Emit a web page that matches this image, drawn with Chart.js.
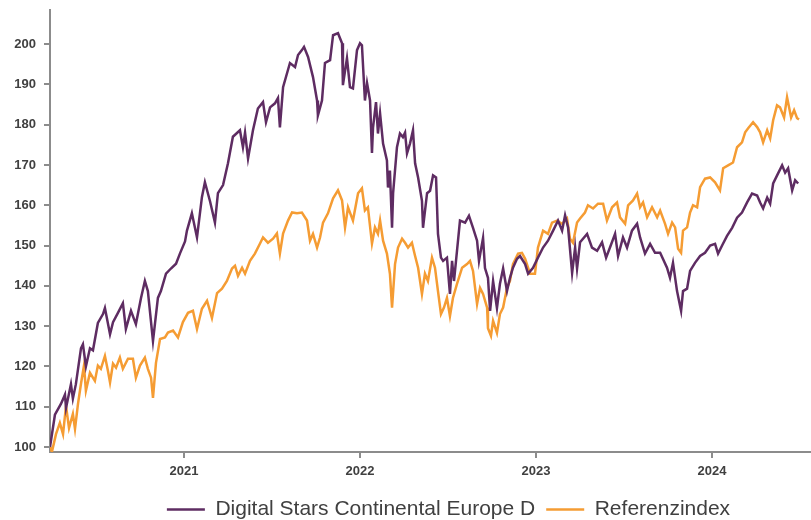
<!DOCTYPE html>
<html lang="de">
<head>
<meta charset="utf-8">
<title>Digital Stars Continental Europe D vs. Referenzindex</title>
<script src="https://cdn.jsdelivr.net/npm/chart.js@4.4.1/dist/chart.umd.min.js"></script>
<style>
  html, body { margin: 0; padding: 0; background: #ffffff; }
  #wrap { width: 811px; height: 520px; }
</style>
</head>
<body>
<div id="wrap"><canvas id="chart" width="811" height="520"></canvas></div>
<script>
// Zeitachse in Dezimaljahren (z.B. 2021.5 = Anfang Juli 2021)
const fundDates = [
  2020.239, 2020.267, 2020.301, 2020.324, 2020.330, 2020.358, 2020.369, 2020.386, 2020.415, 2020.426,
  2020.443, 2020.466, 2020.483, 2020.511, 2020.540, 2020.551, 2020.580, 2020.597, 2020.625, 2020.653,
  2020.670, 2020.699, 2020.727, 2020.756, 2020.778, 2020.795, 2020.824, 2020.852, 2020.869, 2020.898,
  2020.926, 2020.955, 2020.977, 2021.006, 2021.017, 2021.045, 2021.074, 2021.102, 2021.119, 2021.148,
  2021.176, 2021.193, 2021.222, 2021.250, 2021.278, 2021.318, 2021.335, 2021.347, 2021.364, 2021.392,
  2021.420, 2021.449, 2021.466, 2021.489, 2021.517, 2021.534, 2021.545, 2021.563, 2021.602, 2021.631,
  2021.648, 2021.670, 2021.682, 2021.705, 2021.733, 2021.756, 2021.761, 2021.784, 2021.801, 2021.830,
  2021.847, 2021.875, 2021.898, 2021.903, 2021.926, 2021.943, 2021.960, 2021.983, 2022.000, 2022.011,
  2022.028, 2022.040, 2022.057, 2022.068, 2022.074, 2022.091, 2022.102, 2022.114, 2022.131, 2022.153,
  2022.159, 2022.170, 2022.182, 2022.188, 2022.210, 2022.227, 2022.244, 2022.256, 2022.267, 2022.284,
  2022.301, 2022.313, 2022.330, 2022.352, 2022.358, 2022.381, 2022.398, 2022.415, 2022.432, 2022.443,
  2022.460, 2022.472, 2022.494, 2022.511, 2022.523, 2022.534, 2022.551, 2022.568, 2022.597, 2022.619,
  2022.642, 2022.665, 2022.676, 2022.699, 2022.710, 2022.727, 2022.739, 2022.756, 2022.778, 2022.795,
  2022.813, 2022.835, 2022.852, 2022.869, 2022.892, 2022.909, 2022.938, 2022.955, 2022.983, 2023.011,
  2023.040, 2023.068, 2023.097, 2023.125, 2023.148, 2023.165, 2023.182, 2023.205, 2023.222, 2023.233,
  2023.250, 2023.290, 2023.318, 2023.347, 2023.375, 2023.398, 2023.420, 2023.449, 2023.466, 2023.494,
  2023.517, 2023.545, 2023.574, 2023.591, 2023.619, 2023.648, 2023.676, 2023.705, 2023.744, 2023.761,
  2023.778, 2023.801, 2023.824, 2023.835, 2023.858, 2023.875, 2023.903, 2023.932, 2023.960, 2023.989,
  2024.017, 2024.034, 2024.057, 2024.085, 2024.114, 2024.142, 2024.170, 2024.199, 2024.227, 2024.256,
  2024.273, 2024.290, 2024.313, 2024.330, 2024.347, 2024.375, 2024.398, 2024.415, 2024.432, 2024.455,
  2024.472, 2024.489
];

const fundValues = [
  100, 108, 110.7, 113, 109.7, 115.6, 112, 115.6, 124.5, 125.5,
  120, 124.5, 124, 130.8, 133, 134.5, 128, 131, 133.3, 135.7,
  129.3, 133.8, 130.5, 137, 141.2, 138.7, 126.3, 137, 138.7, 143,
  144.3, 145.5, 148, 151, 153.7, 158, 152, 162, 165.7, 161,
  155.7, 163, 165, 170.4, 177, 178.6, 174.4, 178, 171.6, 178.6,
  184, 185.6, 180.6, 184.3, 185.3, 186.6, 179.3, 189.3, 195.3, 194.3,
  197.3, 198.5, 199.3, 196.8, 191.8, 186, 182.3, 186, 195.3, 196,
  202.2, 202.7, 200.2, 189.8, 196.5, 189.3, 189, 198.5, 200.2, 199.7,
  186, 190.3, 186, 173, 179.3, 185.6, 177.8, 182.8, 175.3, 171.1,
  164.4, 168.6, 154.4, 163, 174.4, 177.8, 176.9, 178, 172.9, 175.3,
  178.6, 170.4, 166.9, 161.1, 154.4, 163, 163.6, 167.4, 166.9, 152.9,
  147, 146.2, 147, 138, 146.2, 141.2, 148.7, 156.2, 155.7, 157.4,
  154.4, 151.2, 146.2, 151.9, 144.4, 142, 133.8, 141.2, 134.5, 140.5,
  144.3, 138.7, 142, 144.5, 146.7, 147.4, 145.4, 143, 144.5, 147,
  149.5, 151.2, 153.7, 156.2, 153.7, 157.5, 154.5, 143.2, 149.5, 144.3,
  150.8, 152.9, 149.5, 148.7, 150.8, 147, 149.5, 152.9, 147.4, 152,
  149.5, 153.7, 155.4, 152, 148, 150.4, 148.2, 148.2, 144.5, 142,
  145.7, 138.7, 133.8, 138.7, 139.3, 143.7, 145.7, 147.4, 148.2, 150,
  150.4, 148, 150, 152.4, 154.4, 156.9, 158.2, 160.7, 162.9, 162.4,
  160.7, 159.2, 161.9, 160.4, 165.4, 167.9, 169.9, 168.1, 169.2, 163.7,
  166.2, 165.4
];

const indexDates = [
  2020.239, 2020.250, 2020.273, 2020.295, 2020.313, 2020.330, 2020.347, 2020.369, 2020.381, 2020.398,
  2020.415, 2020.432, 2020.443, 2020.466, 2020.494, 2020.511, 2020.528, 2020.551, 2020.568, 2020.580,
  2020.597, 2020.614, 2020.636, 2020.653, 2020.682, 2020.710, 2020.727, 2020.750, 2020.778, 2020.795,
  2020.813, 2020.824, 2020.841, 2020.864, 2020.892, 2020.909, 2020.938, 2020.966, 2020.994, 2021.023,
  2021.051, 2021.074, 2021.102, 2021.131, 2021.159, 2021.188, 2021.216, 2021.244, 2021.273, 2021.290,
  2021.307, 2021.330, 2021.347, 2021.375, 2021.403, 2021.432, 2021.449, 2021.477, 2021.506, 2021.528,
  2021.545, 2021.563, 2021.591, 2021.614, 2021.642, 2021.670, 2021.699, 2021.716, 2021.733, 2021.756,
  2021.773, 2021.790, 2021.818, 2021.847, 2021.875, 2021.898, 2021.915, 2021.932, 2021.960, 2021.989,
  2022.011, 2022.028, 2022.045, 2022.068, 2022.085, 2022.102, 2022.114, 2022.131, 2022.153, 2022.170,
  2022.182, 2022.199, 2022.216, 2022.239, 2022.256, 2022.273, 2022.295, 2022.313, 2022.330, 2022.352,
  2022.369, 2022.386, 2022.409, 2022.426, 2022.443, 2022.460, 2022.477, 2022.494, 2022.511, 2022.528,
  2022.551, 2022.580, 2022.608, 2022.625, 2022.642, 2022.665, 2022.682, 2022.699, 2022.722, 2022.727,
  2022.744, 2022.756, 2022.778, 2022.795, 2022.813, 2022.835, 2022.852, 2022.869, 2022.898, 2022.920,
  2022.938, 2022.966, 2022.994, 2023.011, 2023.040, 2023.068, 2023.091, 2023.119, 2023.148, 2023.176,
  2023.193, 2023.210, 2023.233, 2023.250, 2023.278, 2023.295, 2023.324, 2023.352, 2023.381, 2023.403,
  2023.432, 2023.460, 2023.477, 2023.506, 2023.523, 2023.551, 2023.574, 2023.591, 2023.608, 2023.631,
  2023.659, 2023.688, 2023.705, 2023.733, 2023.750, 2023.773, 2023.790, 2023.807, 2023.824, 2023.835,
  2023.858, 2023.875, 2023.892, 2023.915, 2023.932, 2023.960, 2023.989, 2024.017, 2024.045, 2024.063,
  2024.091, 2024.119, 2024.142, 2024.170, 2024.188, 2024.205, 2024.233, 2024.256, 2024.273, 2024.290,
  2024.313, 2024.330, 2024.347, 2024.369, 2024.386, 2024.409, 2024.426, 2024.449, 2024.466, 2024.483,
  2024.494
];

const indexValues = [
  100, 98.8, 103.2, 106, 103.2, 110.2, 104.7, 108.2, 104.5, 110.7,
  115.7, 120.2, 114, 118.4, 116.4, 120.2, 119.4, 122.6, 118.9, 116,
  120.7, 119.7, 122.2, 119.4, 121.9, 121.9, 117.2, 120.2, 122.2, 119.4,
  117.2, 112.2, 120.9, 126.8, 127.2, 128.4, 128.9, 127.2, 131, 133.3,
  133.8, 129.3, 134.3, 136.3, 132, 138.2, 139.3, 141.2, 144.3, 145,
  142.5, 144.5, 143, 146.2, 148, 150.5, 152, 150.7, 151.7, 153,
  148, 153, 156.2, 158.2, 158, 158.2, 156.2, 151.2, 152.9, 149.5,
  152, 155.7, 158, 161.7, 163.7, 161.2, 154.5, 159.5, 156.2, 163,
  164.2, 158.7, 159.5, 150.5, 154.5, 152.9, 156.2, 151.2, 148, 143,
  134.6, 145.4, 149.5, 151.7, 150.7, 149.5, 150.7, 147.4, 144.5, 138,
  143, 141.2, 147, 144.5, 138.7, 133, 134.6, 137, 132.5, 137,
  140.5, 144.5, 145.4, 146.2, 143.7, 135.5, 139.5, 138, 134.6, 129.5,
  127.6, 131.3, 128.3, 133, 134.6, 139.5, 141.2, 145.4, 148, 148.2,
  146.7, 143, 143, 149.5, 153.7, 152.9, 155.7, 156.2, 155.4, 156.7,
  151.7, 150.7, 155.7, 156.7, 158.2, 160, 159.2, 160.4, 160.4, 156.2,
  159.5, 160.7, 157, 155.4, 160, 161.2, 162.9, 159.5, 160.7, 157,
  159.5, 157, 158.7, 155.4, 152.9, 155.7, 154.5, 149.2, 148.2, 153.7,
  154.5, 158.2, 160, 159.5, 164.5, 166.6, 166.9, 165.7, 163.7, 169.2,
  169.9, 170.6, 174.4, 175.6, 178.1, 179.1, 180.6, 179.4, 178.1, 175.6,
  178.6, 176.6, 181.1, 184.8, 184.3, 181.8, 186.8, 181.8, 183.6, 181.6,
  181.3
];

const seriesNames = ['Digital Stars Continental Europe D', 'Referenzindex'];
const yearTicks = [2021, 2022, 2023, 2024];
const valueTicks = [100, 110, 120, 130, 140, 150, 160, 170, 180, 190, 200];

const PURPLE = '#5e2c62';
const ORANGE = '#f59c33';
const AXIS = '#8c8c8c';
const TEXT = '#404040';
const FONT = "'Liberation Sans', Arial, sans-serif";

// Legende etwas nach rechts/unten schieben, wie im Original
const legendShift = {
  id: 'legendShift',
  afterLayout(chart) {
    const l = chart.legend;
    if (!l) return;
    l.left += 43; l.right += 43;
    l.top += 10; l.bottom += 10;
  }
};

const toPoints = (dates, values) => dates.map((d, i) => ({ x: d, y: values[i] }));

new Chart(document.getElementById('chart'), {
  type: 'line',
  data: {
    datasets: [
      {
        label: seriesNames[0],
        data: toPoints(fundDates, fundValues),
        borderColor: PURPLE,
        backgroundColor: PURPLE,
        borderWidth: 2.5,
        pointRadius: 0,
        tension: 0
      },
      {
        label: seriesNames[1],
        data: toPoints(indexDates, indexValues),
        borderColor: ORANGE,
        backgroundColor: ORANGE,
        borderWidth: 2.5,
        pointRadius: 0,
        tension: 0
      }
    ]
  },
  options: {
    responsive: false,
    animation: false,
    layout: { padding: { top: 10, right: 0, bottom: 0, left: 0 } },
    scales: {
      x: {
        type: 'linear',
        min: 2020.239,
        max: 2024.562,
        afterBuildTicks: s => { s.ticks = yearTicks.map(v => ({ value: v })); },
        afterFit: s => { s.height = 26; s.paddingLeft = 0; s.paddingRight = 0; },
        ticks: {
          callback: v => String(v),
          color: TEXT,
          font: { family: FONT, size: 13, weight: 'bold' },
          padding: 6,
          maxRotation: 0
        },
        grid: { drawOnChartArea: false, drawTicks: true, tickLength: 6, color: AXIS, lineWidth: 2 },
        border: { color: AXIS, width: 2 }
      },
      y: {
        min: 98.76,
        max: 208.46,
        afterBuildTicks: s => { s.ticks = valueTicks.map(v => ({ value: v })); },
        afterFit: s => { s.width = 50; s.paddingTop = 0; s.paddingBottom = 0; },
        ticks: {
          color: TEXT,
          font: { family: FONT, size: 13, weight: 'bold' },
          padding: 8
        },
        grid: { drawOnChartArea: false, drawTicks: true, tickLength: 6, color: AXIS, lineWidth: 2 },
        border: { color: AXIS, width: 2 }
      }
    },
    plugins: {
      legend: {
        position: 'bottom',
        labels: {
          usePointStyle: true,
          pointStyle: 'line',
          pointStyleWidth: 38,
          color: TEXT,
          font: { family: FONT, size: 21 },
          padding: 11
        }
      },
      tooltip: { enabled: false }
    }
  },
  plugins: [legendShift]
});
</script>
</body>
</html>
